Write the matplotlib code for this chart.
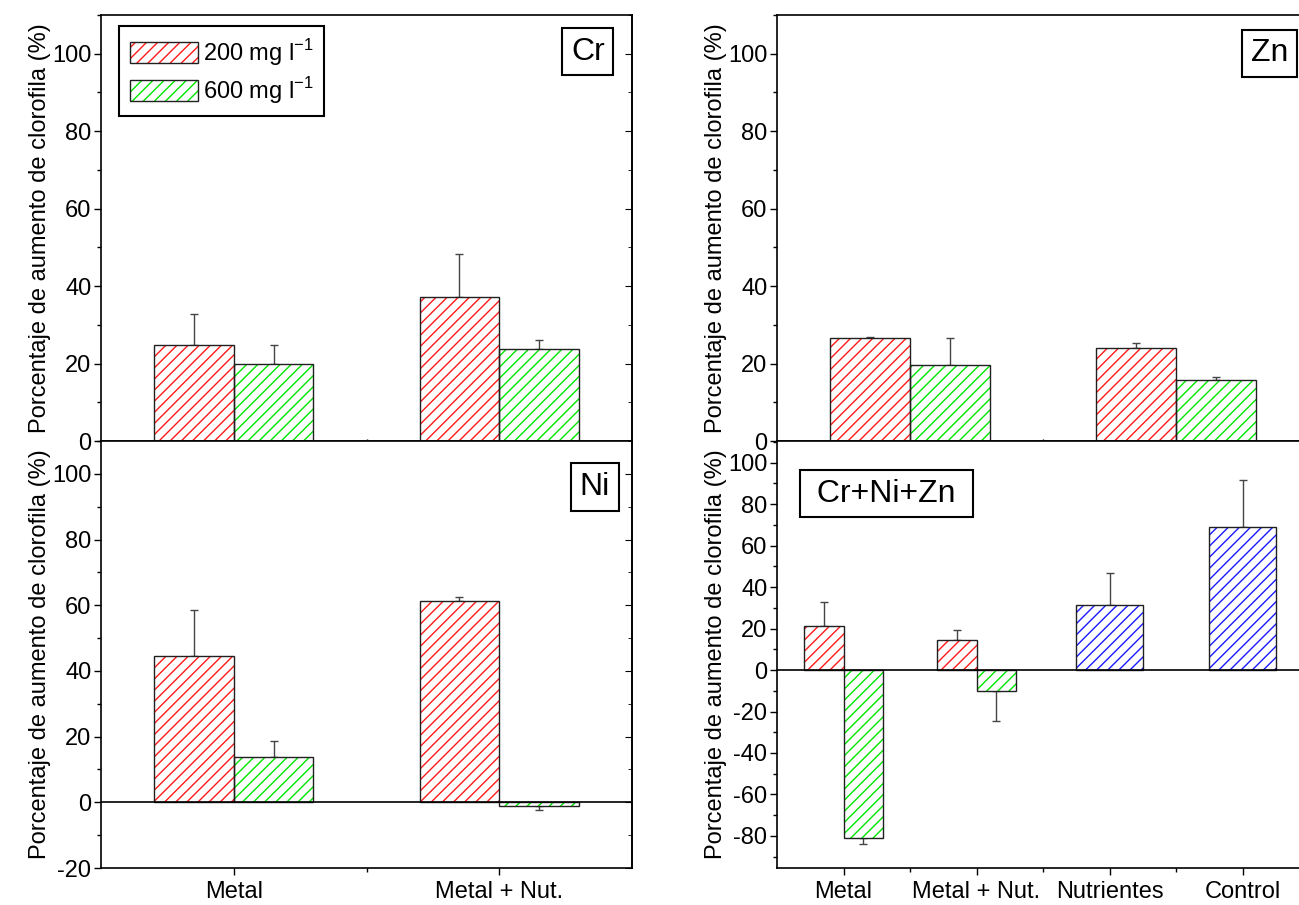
"""Porcentaje de aumento de clorofila para Cr, Zn, Ni y la mezcla Cr+Ni+Zn."""

import numpy as np
import matplotlib
matplotlib.use("Agg")
import matplotlib.pyplot as plt
from matplotlib.patches import Patch
from matplotlib.ticker import MultipleLocator

plt.rcParams['font.family'] = ['Liberation Sans', 'DejaVu Sans']
plt.rcParams['mathtext.fontset'] = 'custom'
plt.rcParams['mathtext.rm'] = 'Liberation Sans'
plt.rcParams['hatch.linewidth'] = 1.0
plt.rcParams['axes.unicode_minus'] = False

# data
groups_2 = ["Metal", "Metal + Nut."]
groups_4 = ["Metal", "Metal + Nut.", "Nutrientes", "Control"]
labels = [r"200 mg l$^{\mathrm{-1}}$", r"600 mg l$^{\mathrm{-1}}$"]

cr_200 = [24.7, 37.2]
cr_200_err = [8.0, 11.2]
cr_600 = [19.9, 23.7]
cr_600_err = [4.8, 2.5]

zn_200 = [26.7, 24.0]
zn_200_err = [0.2, 1.3]
zn_600 = [19.6, 15.8]
zn_600_err = [7.0, 0.7]

ni_200 = [44.4, 61.3]
ni_200_err = [14.0, 1.1]
ni_600 = [13.7, -1.2]
ni_600_err = [5.1, 1.1]

mix_200 = [21.2, 14.5]
mix_200_err = [11.6, 4.6]
mix_600 = [-81.2, -10.0]
mix_600_err = [2.5, 14.4]
mix_ref = [31.5, 69.2]      # Nutrientes, Control
mix_ref_err = [15.1, 22.7]

# global parameters
red = '#ff1a1a'
green = '#00e600'
blue = '#1a1aff'
edge = '#202020'
ylabel = "Porcentaje de aumento de clorofila (%)"
fs = 17
W, H = 1299.0, 905.0


def hatched_bars(ax, x, values, errors, width, color):
    """Bars with coloured hatch, dark outline and one sided error bars."""
    values = np.asarray(values)
    errors = np.asarray(errors)
    lower = np.where(values < 0, errors, 0)
    upper = np.where(values < 0, 0, errors)
    ax.errorbar(x, values, yerr=[lower, upper], fmt='none', ecolor='#454545',
                elinewidth=1.0, capsize=3, capthick=1.0, zorder=1)
    ax.bar(x, values, width, color='white', edgecolor=color, hatch='///',
           linewidth=0, zorder=2)
    ax.bar(x, values, width, fill=False, edgecolor=edge, linewidth=1.0, zorder=3)


def setup_axes(ax, ylim, n, xlabels=None):
    ax.set_xlim(0.5, n + 0.5)
    ax.set_ylim(*ylim)
    ax.yaxis.set_major_locator(MultipleLocator(20))
    ax.yaxis.set_minor_locator(MultipleLocator(10))
    ax.set_xticks(np.arange(1, n + 1))
    ax.set_xticks(np.arange(1.5, n + 0.5), minor=True)
    ax.tick_params(which='major', length=5, width=1.0)
    ax.tick_params(which='minor', length=3, width=1.0)
    ax.tick_params(axis='y', labelsize=fs, pad=2)
    if xlabels is None:
        ax.tick_params(axis='x', which='both', direction='inout', labelbottom=False)
    else:
        ax.set_xticklabels(xlabels, fontsize=fs)
        ax.tick_params(axis='x', pad=4)
    sec = ax.secondary_yaxis('right')
    sec.yaxis.set_major_locator(MultipleLocator(20))
    sec.yaxis.set_minor_locator(MultipleLocator(10))
    sec.tick_params(which='both', direction='in', labelright=False)
    sec.tick_params(which='major', length=5)
    sec.tick_params(which='minor', length=3)
    sec.spines['right'].set_linewidth(1.2)
    for s in ax.spines.values():
        s.set_linewidth(1.2)
    ax.set_ylabel(ylabel, fontsize=fs, labelpad=1)


def panel_label(ax, text, x, y):
    ax.text(x, y, text, transform=ax.transAxes, fontsize=23, ha='center', va='center',
            bbox=dict(boxstyle='square,pad=0.27', facecolor='white', edgecolor='k',
                      linewidth=1.5), zorder=5)


fig = plt.figure(figsize=(W / 100, H / 100), dpi=100)

# axes rectangles in pixels (left, top, right, bottom) from the original
ax_cr = fig.add_axes([101 / W, 1 - 441 / H, 531 / W, 426 / H])
ax_ni = fig.add_axes([101 / W, 1 - 868 / H, 531 / W, 427 / H])
ax_zn = fig.add_axes([777 / W, 1 - 441 / H, 532 / W, 426 / H])
ax_mix = fig.add_axes([777 / W, 1 - 868 / H, 532 / W, 427 / H])

# Cr
x2 = np.arange(1, len(groups_2) + 1)
hatched_bars(ax_cr, x2 - 0.15, cr_200, cr_200_err, 0.3, red)
hatched_bars(ax_cr, x2 + 0.15, cr_600, cr_600_err, 0.3, green)
setup_axes(ax_cr, (0, 110), 2)
panel_label(ax_cr, "Cr", 0.917, 0.914)

handles = [(Patch(facecolor='white', edgecolor=c, hatch='///', linewidth=0),
            Patch(fill=False, edgecolor=edge, linewidth=1.0)) for c in (red, green)]
leg = ax_cr.legend(handles, labels, loc='upper left', bbox_to_anchor=(0.034, 0.974),
                   borderaxespad=0, fontsize=fs, handlelength=2.9, handleheight=1.0,
                   fancybox=False, edgecolor='k', framealpha=1, borderpad=0.45,
                   labelspacing=0.3, handletextpad=0.2)
leg.get_frame().set_linewidth(1.5)

# Ni
hatched_bars(ax_ni, x2 - 0.15, ni_200, ni_200_err, 0.3, red)
hatched_bars(ax_ni, x2 + 0.15, ni_600, ni_600_err, 0.3, green)
ax_ni.axhline(0, color='k', linewidth=1.2, zorder=4)
setup_axes(ax_ni, (-20, 110), 2, groups_2)
panel_label(ax_ni, "Ni", 0.930, 0.892)

# Zn (groups sit between the category ticks of the lower panel)
xz = np.array([1.5, 3.5])
hatched_bars(ax_zn, xz - 0.3, zn_200, zn_200_err, 0.6, red)
hatched_bars(ax_zn, xz + 0.3, zn_600, zn_600_err, 0.6, green)
setup_axes(ax_zn, (0, 110), 4)
panel_label(ax_zn, "Zn", 0.926, 0.910)

# Cr+Ni+Zn
xm = np.arange(1, 3)
hatched_bars(ax_mix, xm - 0.15, mix_200, mix_200_err, 0.3, red)
hatched_bars(ax_mix, xm + 0.15, mix_600, mix_600_err, 0.3, green)
hatched_bars(ax_mix, np.arange(3, 5), mix_ref, mix_ref_err, 0.5, blue)
ax_mix.axhline(0, color='k', linewidth=1.2, zorder=4)
setup_axes(ax_mix, (-95.5, 110.5), 4, groups_4)
panel_label(ax_mix, " Cr+Ni+Zn ", 0.206, 0.877)

plt.savefig("out.png", dpi=100)
